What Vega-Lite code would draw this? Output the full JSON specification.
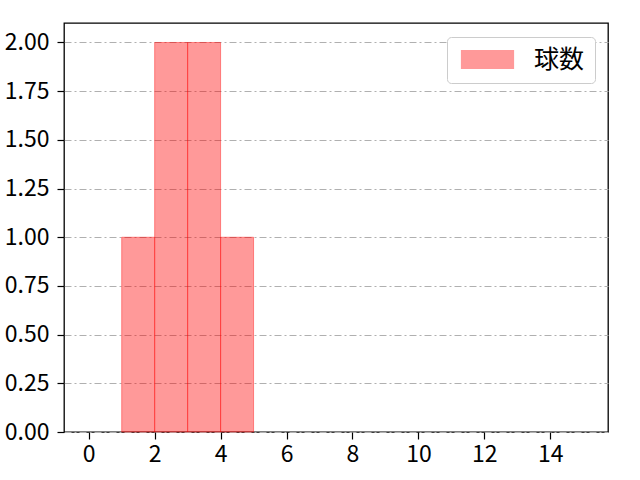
{
  "$schema": "https://vega.github.io/schema/vega-lite/v6.json",
  "width": 544,
  "height": 409,
  "autosize": {"type": "none"},
  "padding": {"left": 64, "top": 23, "right": 32, "bottom": 48},
  "background": "white",
  "data": {
    "values": [
      {"start": 1, "end": 2, "count": 1, "series": "球数"},
      {"start": 2, "end": 3, "count": 2, "series": "球数"},
      {"start": 3, "end": 4, "count": 2, "series": "球数"},
      {"start": 4, "end": 5, "count": 1, "series": "球数"}
    ]
  },
  "mark": {
    "type": "rect",
    "fillOpacity": 0.4,
    "stroke": "red",
    "strokeOpacity": 0.4,
    "strokeWidth": 1
  },
  "encoding": {
    "x": {
      "field": "start",
      "type": "quantitative",
      "scale": {"domain": [-0.75, 15.75], "nice": false, "zero": false},
      "axis": {"values": [0, 2, 4, 6, 8, 10, 12, 14], "title": null, "grid": false, "labelPadding": 4}
    },
    "x2": {"field": "end"},
    "y": {
      "field": "count",
      "type": "quantitative",
      "scale": {"domain": [0, 2.1], "nice": false},
      "axis": {
        "values": [0, 0.25, 0.5, 0.75, 1, 1.25, 1.5, 1.75, 2],
        "format": ".2f",
        "title": null,
        "grid": true,
        "labelPadding": 8
      }
    },
    "y2": {"datum": 0},
    "fill": {
      "field": "series",
      "type": "nominal",
      "scale": {"range": ["red"]},
      "legend": {
        "title": null,
        "orient": "none",
        "legendX": 383,
        "legendY": 14,
        "padding": 10,
        "strokeColor": "#cccccc",
        "cornerRadius": 4,
        "fillColor": "white",
        "symbolType": "M-2.8,-1L2.8,-1L2.8,1L-2.8,1Z",
        "symbolSize": 361,
        "symbolOffset": 18,
        "symbolOpacity": 0.4,
        "symbolStrokeWidth": 0,
        "labelFontSize": 25,
        "labelOffset": 34,
        "labelFont": "Noto Sans CJK JP",
        "labelColor": "black"
      }
    }
  },
  "config": {
    "font": "Noto Sans CJK JP",
    "view": {"stroke": "black", "strokeWidth": 1.3},
    "axis": {
      "domain": false,
      "labelFontSize": 23,
      "labelColor": "black",
      "labelFont": "Noto Sans CJK JP",
      "tickColor": "black",
      "tickSize": 7,
      "tickWidth": 1.2,
      "gridColor": "#b0b0b0",
      "gridDash": [7, 3, 2, 3],
      "gridWidth": 1
    }
  }
}
